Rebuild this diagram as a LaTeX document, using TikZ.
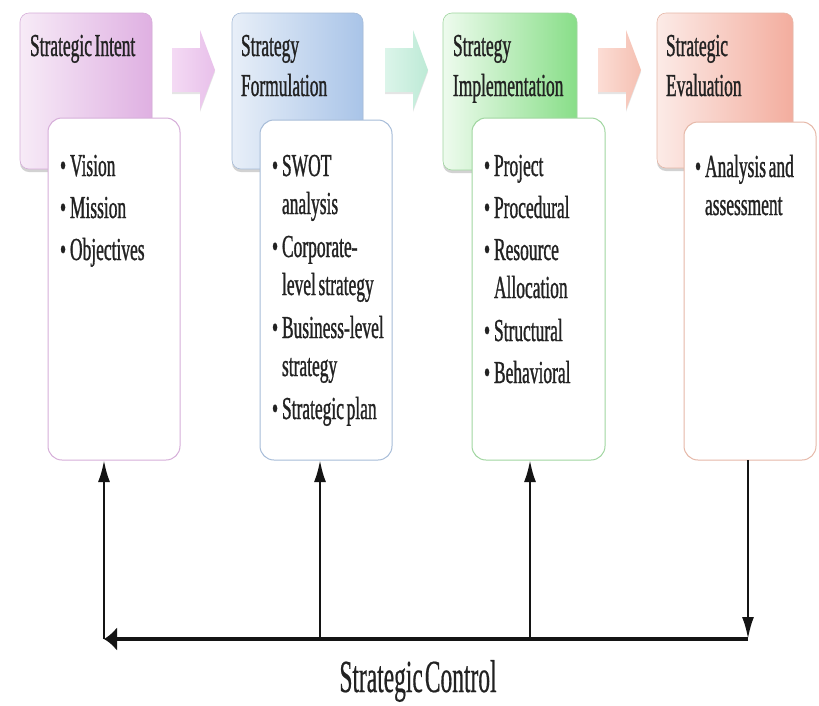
\documentclass[tikz,border=0pt]{standalone}
\usepackage{fontspec}
\setmainfont[FakeStretch=0.545,FakeBold=0.9,WordSpace=0.6]{Liberation Serif}
\newfontfamily\ctrlfont[FakeStretch=0.51,FakeBold=0.4,WordSpace=0.35]{Liberation Serif}
\usetikzlibrary{arrows.meta,shadows}

\definecolor{txt}{HTML}{222222}
% stage colours: light end, strong end, border
\definecolor{pinkA}{HTML}{F7EBF7}\definecolor{pinkB}{HTML}{DFB0E2}\definecolor{pinkL}{HTML}{D6AED9}
\definecolor{blueA}{HTML}{E8EFF8}\definecolor{blueB}{HTML}{A9C4E8}\definecolor{blueL}{HTML}{A7BCD8}
\definecolor{grnA}{HTML}{EEFBEE}\definecolor{grnB}{HTML}{88DE88}\definecolor{grnL}{HTML}{A0D6A0}
\definecolor{salA}{HTML}{FCEBE7}\definecolor{salB}{HTML}{F3AD9E}\definecolor{salL}{HTML}{E6B8A8}
\definecolor{arr1A}{HTML}{F4DAF4}\definecolor{arr1B}{HTML}{E8C0EA}
\definecolor{arr2A}{HTML}{DCF5EA}\definecolor{arr2B}{HTML}{BDEAD6}
\definecolor{arr3A}{HTML}{FCDDD5}\definecolor{arr3B}{HTML}{F5C0B2}

% one bulleted entry; continuation lines hang under the first word
\newcommand\bitem[1]{\noindent\spaceskip=0pt\xspaceskip=0pt
  \makebox[10pt][l]{\textbullet}%
  \begin{tabular}[t]{@{}l@{}}#1\end{tabular}\par}

\tikzset{
  every node/.style={inner sep=0pt, outer sep=0pt},
  header/.style n args={3}{rounded corners=9pt, line width=0.6pt, anchor=north west,
    draw=#3, left color=#1, right color=#2,
    drop shadow={shadow xshift=0pt, shadow yshift=-3pt, opacity=0.35}},
  body/.style={rounded corners=14pt, fill=white, line width=1pt, anchor=north west,
    draw=#1},
  hdrtext/.style={anchor=north west, align=left, text=txt,
    font=\fontsize{32}{40}\selectfont},
  itemtext/.style={anchor=north west, text width=125pt, align=left, text=txt,
    font=\fontsize{32}{38}\selectfont\setlength\parskip{4pt}},
  blockarrow/.style 2 args={left color=#1, right color=#2, draw=none,
    drop shadow={shadow xshift=0pt, shadow yshift=-2pt, opacity=0.2}},
  feed/.style={line width=2.6pt, draw=black!92, -{Latex[length=22pt,width=12pt]}},
  mainline/.style={line width=4.5pt, draw=black!92, -{Latex[length=13pt,width=24pt]}},
}

\begin{document}
\begin{tikzpicture}[x=1pt, y=-1pt]
\fill[white] (0,0) rectangle (819,705);
\useasboundingbox (0,0) rectangle (819,705);

% stage headers
\node[header={pinkA}{pinkB}{pinkL}, minimum width=132pt, minimum height=156pt] (h1) at (20,13) {};
\node[header={blueA}{blueB}{blueL}, minimum width=131pt, minimum height=156pt] (h2) at (232,13) {};
\node[header={grnA}{grnB}{grnL},   minimum width=134pt, minimum height=157pt] (h3) at (443,13) {};
\node[header={salA}{salB}{salL},   minimum width=136pt, minimum height=155pt] (h4) at (657,13) {};

% header titles (first baseline at y = 56)
\node[hdrtext] (t1) at (30,28)  {\strut Strategic Intent};
\node[hdrtext] (t2) at (241,28) {\strut Strategy\\Formulation};
\node[hdrtext] (t3) at (453,28) {\strut Strategy\\Implementation};
\node[hdrtext] (t4) at (666,28) {\strut Strategic\\Evaluation};

% block arrows between stages
\path[blockarrow={arr1A}{arr1B}] (172,48) -- (200,48) -- (200,30) -- (215,70) -- (200,110) -- (200,92) -- (172,92) -- cycle;
\path[blockarrow={arr2A}{arr2B}] (385,48) -- (413,48) -- (413,30) -- (428,70) -- (413,110) -- (413,92) -- (385,92) -- cycle;
\path[blockarrow={arr3A}{arr3B}] (598,48) -- (626,48) -- (626,30) -- (641,70) -- (626,110) -- (626,92) -- (598,92) -- cycle;

% detail boxes
\node[body=pinkL, minimum width=132pt, minimum height=342pt] (b1) at (48,118) {};
\node[body=blueL, minimum width=132pt, minimum height=340pt] (b2) at (260,120) {};
\node[body=grnL,  minimum width=133pt, minimum height=342pt] (b3) at (472,118) {};
\node[body=salL,  minimum width=132pt, minimum height=338pt] (b4) at (684,122) {};

% entries (first baseline at y = 176; strut height 26.6)
\node[itemtext] (l1) at (60,149.4) {\bitem{Vision}\bitem{Mission}\bitem{Objectives}};
\node[itemtext] (l2) at (272,149.4) {\bitem{SWOT\\analysis}\bitem{Corporate-\\level strategy}\bitem{Business-level\\strategy}\bitem{Strategic plan}};
\node[itemtext] (l3) at (484,149.4) {\bitem{Project}\bitem{Procedural}\bitem{Resource\\Allocation}\bitem{Structural}\bitem{Behavioral}};
\node[itemtext] (l4) at (695,150.4) {\bitem{Analysis and\\assessment}};

% strategic control loop
\coordinate (c1) at (104,639);
\coordinate (c2) at (320,639);
\coordinate (c3) at (530,639);
\coordinate (c4) at (748,639);
\draw[mainline] (c4) -- (c1);
\draw[feed] (c1) -- (c1 |- b1.south);
\draw[feed] (c2) -- (c2 |- b2.south);
\draw[feed] (c3) -- (c3 |- b3.south);
\draw[feed] (c4 |- b4.south) -- (c4);

\node[anchor=base, text=txt, font=\ctrlfont\fontsize{46}{46}\selectfont] (ctrl) at (418,692) {Strategic Control};
\end{tikzpicture}
\end{document}
